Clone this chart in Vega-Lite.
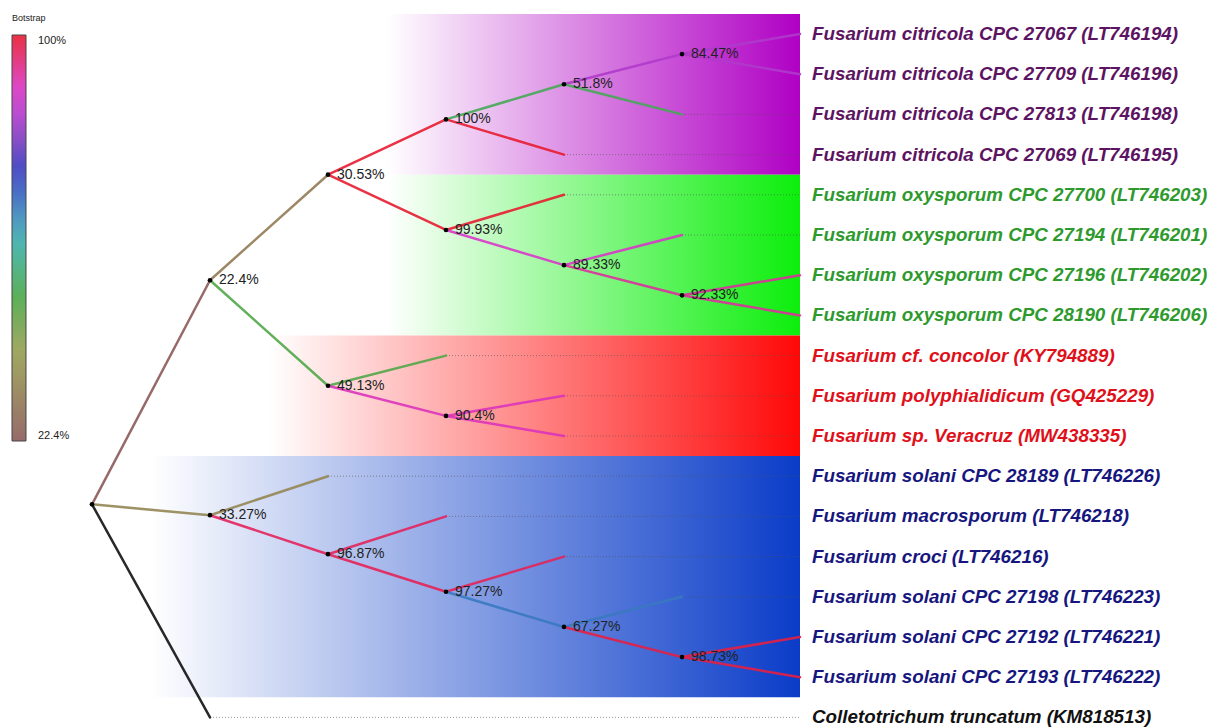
{
  "$schema": "https://vega.github.io/schema/vega-lite/v6.json",
  "width": 1207,
  "height": 727,
  "padding": 0,
  "autosize": {"type": "none"},
  "background": "white",
  "config": {"view": {"stroke": null}},
  "datasets": {
    "bands": [
      {"clade": "citricola", "x0": 2.5, "x1": 6, "y0": -0.5, "y1": 3.5},
      {"clade": "oxysporum", "x0": 2.5, "x1": 6, "y0": 3.5, "y1": 7.5},
      {"clade": "concolor", "x0": 1.5, "x1": 6, "y0": 7.5, "y1": 10.5},
      {"clade": "solani", "x0": 0.5, "x1": 6, "y0": 10.5, "y1": 16.5}
    ],
    "branches": [
      {"x": 0, "y": 11.7, "x2": 1, "y2": 6.125, "support": 22.4, "out": 0},
      {"x": 0, "y": 11.7, "x2": 1, "y2": 11.97, "support": 33.27, "out": 0},
      {"x": 0, "y": 11.7, "x2": 1, "y2": 17, "support": 22.4, "out": 1},
      {"x": 1, "y": 6.125, "x2": 2, "y2": 3.5, "support": 30.53, "out": 0},
      {"x": 1, "y": 6.125, "x2": 2, "y2": 8.75, "support": 49.13, "out": 0},
      {"x": 2, "y": 3.5, "x2": 3, "y2": 2.125, "support": 100, "out": 0},
      {"x": 2, "y": 3.5, "x2": 3, "y2": 4.875, "support": 99.93, "out": 0},
      {"x": 3, "y": 2.125, "x2": 4, "y2": 1.25, "support": 51.8, "out": 0},
      {"x": 3, "y": 2.125, "x2": 4, "y2": 3, "support": 100, "out": 0},
      {"x": 4, "y": 1.25, "x2": 5, "y2": 0.5, "support": 84.47, "out": 0},
      {"x": 4, "y": 1.25, "x2": 5, "y2": 2, "support": 51.8, "out": 0},
      {"x": 5, "y": 0.5, "x2": 6, "y2": 0, "support": 84.47, "out": 0},
      {"x": 5, "y": 0.5, "x2": 6, "y2": 1, "support": 84.47, "out": 0},
      {"x": 3, "y": 4.875, "x2": 4, "y2": 4, "support": 99.93, "out": 0},
      {"x": 3, "y": 4.875, "x2": 4, "y2": 5.75, "support": 89.33, "out": 0},
      {"x": 4, "y": 5.75, "x2": 5, "y2": 5, "support": 89.33, "out": 0},
      {"x": 4, "y": 5.75, "x2": 5, "y2": 6.5, "support": 92.33, "out": 0},
      {"x": 5, "y": 6.5, "x2": 6, "y2": 6, "support": 92.33, "out": 0},
      {"x": 5, "y": 6.5, "x2": 6, "y2": 7, "support": 92.33, "out": 0},
      {"x": 2, "y": 8.75, "x2": 3, "y2": 8, "support": 49.13, "out": 0},
      {"x": 2, "y": 8.75, "x2": 3, "y2": 9.5, "support": 90.4, "out": 0},
      {"x": 3, "y": 9.5, "x2": 4, "y2": 9, "support": 90.4, "out": 0},
      {"x": 3, "y": 9.5, "x2": 4, "y2": 10, "support": 90.4, "out": 0},
      {"x": 1, "y": 11.97, "x2": 2, "y2": 11, "support": 33.27, "out": 0},
      {"x": 1, "y": 11.97, "x2": 2, "y2": 12.94, "support": 96.87, "out": 0},
      {"x": 2, "y": 12.94, "x2": 3, "y2": 12, "support": 96.87, "out": 0},
      {"x": 2, "y": 12.94, "x2": 3, "y2": 13.875, "support": 97.27, "out": 0},
      {"x": 3, "y": 13.875, "x2": 4, "y2": 13, "support": 97.27, "out": 0},
      {"x": 3, "y": 13.875, "x2": 4, "y2": 14.75, "support": 67.27, "out": 0},
      {"x": 4, "y": 14.75, "x2": 5, "y2": 14, "support": 67.27, "out": 0},
      {"x": 4, "y": 14.75, "x2": 5, "y2": 15.5, "support": 98.73, "out": 0},
      {"x": 5, "y": 15.5, "x2": 6, "y2": 15, "support": 98.73, "out": 0},
      {"x": 5, "y": 15.5, "x2": 6, "y2": 16, "support": 98.73, "out": 0}
    ],
    "nodes": [
      {"depth": 0, "row": 11.7, "label": ""},
      {"depth": 1, "row": 6.125, "label": "22.4%"},
      {"depth": 2, "row": 3.5, "label": "30.53%"},
      {"depth": 3, "row": 2.125, "label": "100%"},
      {"depth": 4, "row": 1.25, "label": "51.8%"},
      {"depth": 5, "row": 0.5, "label": "84.47%"},
      {"depth": 3, "row": 4.875, "label": "99.93%"},
      {"depth": 4, "row": 5.75, "label": "89.33%"},
      {"depth": 5, "row": 6.5, "label": "92.33%"},
      {"depth": 2, "row": 8.75, "label": "49.13%"},
      {"depth": 3, "row": 9.5, "label": "90.4%"},
      {"depth": 1, "row": 11.97, "label": "33.27%"},
      {"depth": 2, "row": 12.94, "label": "96.87%"},
      {"depth": 3, "row": 13.875, "label": "97.27%"},
      {"depth": 4, "row": 14.75, "label": "67.27%"},
      {"depth": 5, "row": 15.5, "label": "98.73%"}
    ],
    "tips": [
      {"name": "Fusarium citricola CPC 27067 (LT746194)", "row": 0, "depth": 6, "clade": "citricola"},
      {"name": "Fusarium citricola CPC 27709 (LT746196)", "row": 1, "depth": 6, "clade": "citricola"},
      {"name": "Fusarium citricola CPC 27813 (LT746198)", "row": 2, "depth": 5, "clade": "citricola"},
      {"name": "Fusarium citricola CPC 27069 (LT746195)", "row": 3, "depth": 4, "clade": "citricola"},
      {"name": "Fusarium oxysporum CPC 27700 (LT746203)", "row": 4, "depth": 4, "clade": "oxysporum"},
      {"name": "Fusarium oxysporum CPC 27194 (LT746201)", "row": 5, "depth": 5, "clade": "oxysporum"},
      {"name": "Fusarium oxysporum CPC 27196 (LT746202)", "row": 6, "depth": 6, "clade": "oxysporum"},
      {"name": "Fusarium oxysporum CPC 28190 (LT746206)", "row": 7, "depth": 6, "clade": "oxysporum"},
      {"name": "Fusarium cf. concolor (KY794889)", "row": 8, "depth": 3, "clade": "concolor"},
      {"name": "Fusarium polyphialidicum (GQ425229)", "row": 9, "depth": 4, "clade": "concolor"},
      {"name": "Fusarium sp. Veracruz (MW438335)", "row": 10, "depth": 4, "clade": "concolor"},
      {"name": "Fusarium solani CPC 28189 (LT746226)", "row": 11, "depth": 2, "clade": "solani"},
      {"name": "Fusarium macrosporum (LT746218)", "row": 12, "depth": 3, "clade": "solani"},
      {"name": "Fusarium croci (LT746216)", "row": 13, "depth": 4, "clade": "solani"},
      {"name": "Fusarium solani CPC 27198 (LT746223)", "row": 14, "depth": 5, "clade": "solani"},
      {"name": "Fusarium solani CPC 27192 (LT746221)", "row": 15, "depth": 6, "clade": "solani"},
      {"name": "Fusarium solani CPC 27193 (LT746222)", "row": 16, "depth": 6, "clade": "solani"},
      {"name": "Colletotrichum truncatum (KM818513)", "row": 17, "depth": 1, "clade": "outgroup"}
    ]
  },
  "layer": [
    {
      "data": {"name": "bands"},
      "transform": [{"filter": "datum.clade == 'citricola'"}],
      "mark": {"type": "rect", "fill": {"gradient": "linear", "x1": 0, "y1": 0, "x2": 1, "y2": 0, "stops": [{"offset": 0, "color": "#ffffff"}, {"offset": 1, "color": "#b000c4"}]}},
      "encoding": {
        "x": {"field": "x0", "type": "quantitative", "axis": null, "scale": {"domain": [-0.7797, 9.4492], "nice": false, "zero": false}},
        "x2": {"field": "x1"},
        "y": {"field": "y0", "type": "quantitative", "axis": null, "scale": {"domain": [-0.8458, 17.2388], "nice": false, "zero": false, "reverse": true}},
        "y2": {"field": "y1"}
      }
    },
    {
      "data": {"name": "bands"},
      "transform": [{"filter": "datum.clade == 'oxysporum'"}],
      "mark": {"type": "rect", "fill": {"gradient": "linear", "x1": 0, "y1": 0, "x2": 1, "y2": 0, "stops": [{"offset": 0, "color": "#ffffff"}, {"offset": 1, "color": "#0cee0c"}]}},
      "encoding": {
        "x": {"field": "x0", "type": "quantitative"},
        "x2": {"field": "x1"},
        "y": {"field": "y0", "type": "quantitative"},
        "y2": {"field": "y1"}
      }
    },
    {
      "data": {"name": "bands"},
      "transform": [{"filter": "datum.clade == 'concolor'"}],
      "mark": {"type": "rect", "fill": {"gradient": "linear", "x1": 0, "y1": 0, "x2": 1, "y2": 0, "stops": [{"offset": 0, "color": "#ffffff"}, {"offset": 1, "color": "#ff0808"}]}},
      "encoding": {
        "x": {"field": "x0", "type": "quantitative"},
        "x2": {"field": "x1"},
        "y": {"field": "y0", "type": "quantitative"},
        "y2": {"field": "y1"}
      }
    },
    {
      "data": {"name": "bands"},
      "transform": [{"filter": "datum.clade == 'solani'"}],
      "mark": {"type": "rect", "fill": {"gradient": "linear", "x1": 0, "y1": 0, "x2": 1, "y2": 0, "stops": [{"offset": 0, "color": "#ffffff"}, {"offset": 1, "color": "#0a3cc8"}]}},
      "encoding": {
        "x": {"field": "x0", "type": "quantitative"},
        "x2": {"field": "x1"},
        "y": {"field": "y0", "type": "quantitative"},
        "y2": {"field": "y1"}
      }
    },
    {
      "data": {"name": "tips"},
      "mark": {"type": "rule", "stroke": "#555555", "strokeWidth": 1, "strokeDash": [1, 2], "opacity": 0.6},
      "encoding": {
        "x": {"field": "depth", "type": "quantitative"},
        "x2": {"datum": 6},
        "y": {"field": "row", "type": "quantitative"},
        "y2": {"field": "row"}
      }
    },
    {
      "data": {"name": "branches"},
      "mark": {"type": "rule", "strokeWidth": 2.5, "strokeCap": "round", "opacity": 0.9},
      "encoding": {
        "x": {"field": "x", "type": "quantitative"},
        "x2": {"field": "x2"},
        "y": {"field": "y", "type": "quantitative"},
        "y2": {"field": "y2"},
        "color": {
          "condition": {"test": "datum.out == 1", "value": "#111111"},
          "field": "support",
          "type": "quantitative",
          "scale": {
            "domain": [22.4, 39.5, 50.3, 60.8, 67.0, 74.0, 81.0, 88.4, 100],
            "range": ["#8c5a5a", "#98a050", "#48a848", "#3cb0b0", "#3a7cc0", "#3038c0", "#8a3cc0", "#d838d8", "#e81c30"],
            "interpolate": "rgb"
          },
          "legend": {
            "orient": "none",
            "legendX": 12,
            "legendY": 14,
            "direction": "vertical",
            "title": "Botstrap",
            "titleFont": "Liberation Sans",
            "titleFontSize": 9,
            "titleFontWeight": "normal",
            "titleColor": "#222222",
            "titlePadding": 12,
            "gradientLength": 406,
            "gradientThickness": 14,
            "gradientStrokeColor": "#333333",
            "gradientStrokeWidth": 1,
            "values": [22.4, 100],
            "labelExpr": "datum.value > 99 ? '100%' : '22.4%'",
            "labelFont": "Liberation Sans",
            "labelFontSize": 11,
            "labelColor": "#222222",
            "labelOffset": 12
          }
        }
      }
    },
    {
      "data": {"name": "nodes"},
      "mark": {"type": "circle", "size": 22, "color": "#000000", "opacity": 1},
      "encoding": {
        "x": {"field": "depth", "type": "quantitative"},
        "y": {"field": "row", "type": "quantitative"}
      }
    },
    {
      "data": {"name": "nodes"},
      "mark": {"type": "text", "align": "left", "baseline": "middle", "dx": 9, "fontSize": 14, "font": "Liberation Sans", "color": "#222222"},
      "encoding": {
        "x": {"field": "depth", "type": "quantitative"},
        "y": {"field": "row", "type": "quantitative"},
        "text": {"field": "label"}
      }
    },
    {
      "data": {"name": "tips"},
      "mark": {"type": "text", "align": "left", "baseline": "middle", "dx": 12, "fontSize": 18.8, "font": "Liberation Sans", "fontStyle": "italic", "fontWeight": "bold"},
      "encoding": {
        "x": {"datum": 6, "type": "quantitative"},
        "y": {"field": "row", "type": "quantitative"},
        "text": {"field": "name"},
        "fill": {
          "field": "clade",
          "type": "nominal",
          "legend": null,
          "scale": {
            "domain": ["citricola", "oxysporum", "concolor", "solani", "outgroup"],
            "range": ["#5c1462", "#2e9a2e", "#e0101a", "#16167e", "#111111"]
          }
        }
      }
    }
  ]
}
